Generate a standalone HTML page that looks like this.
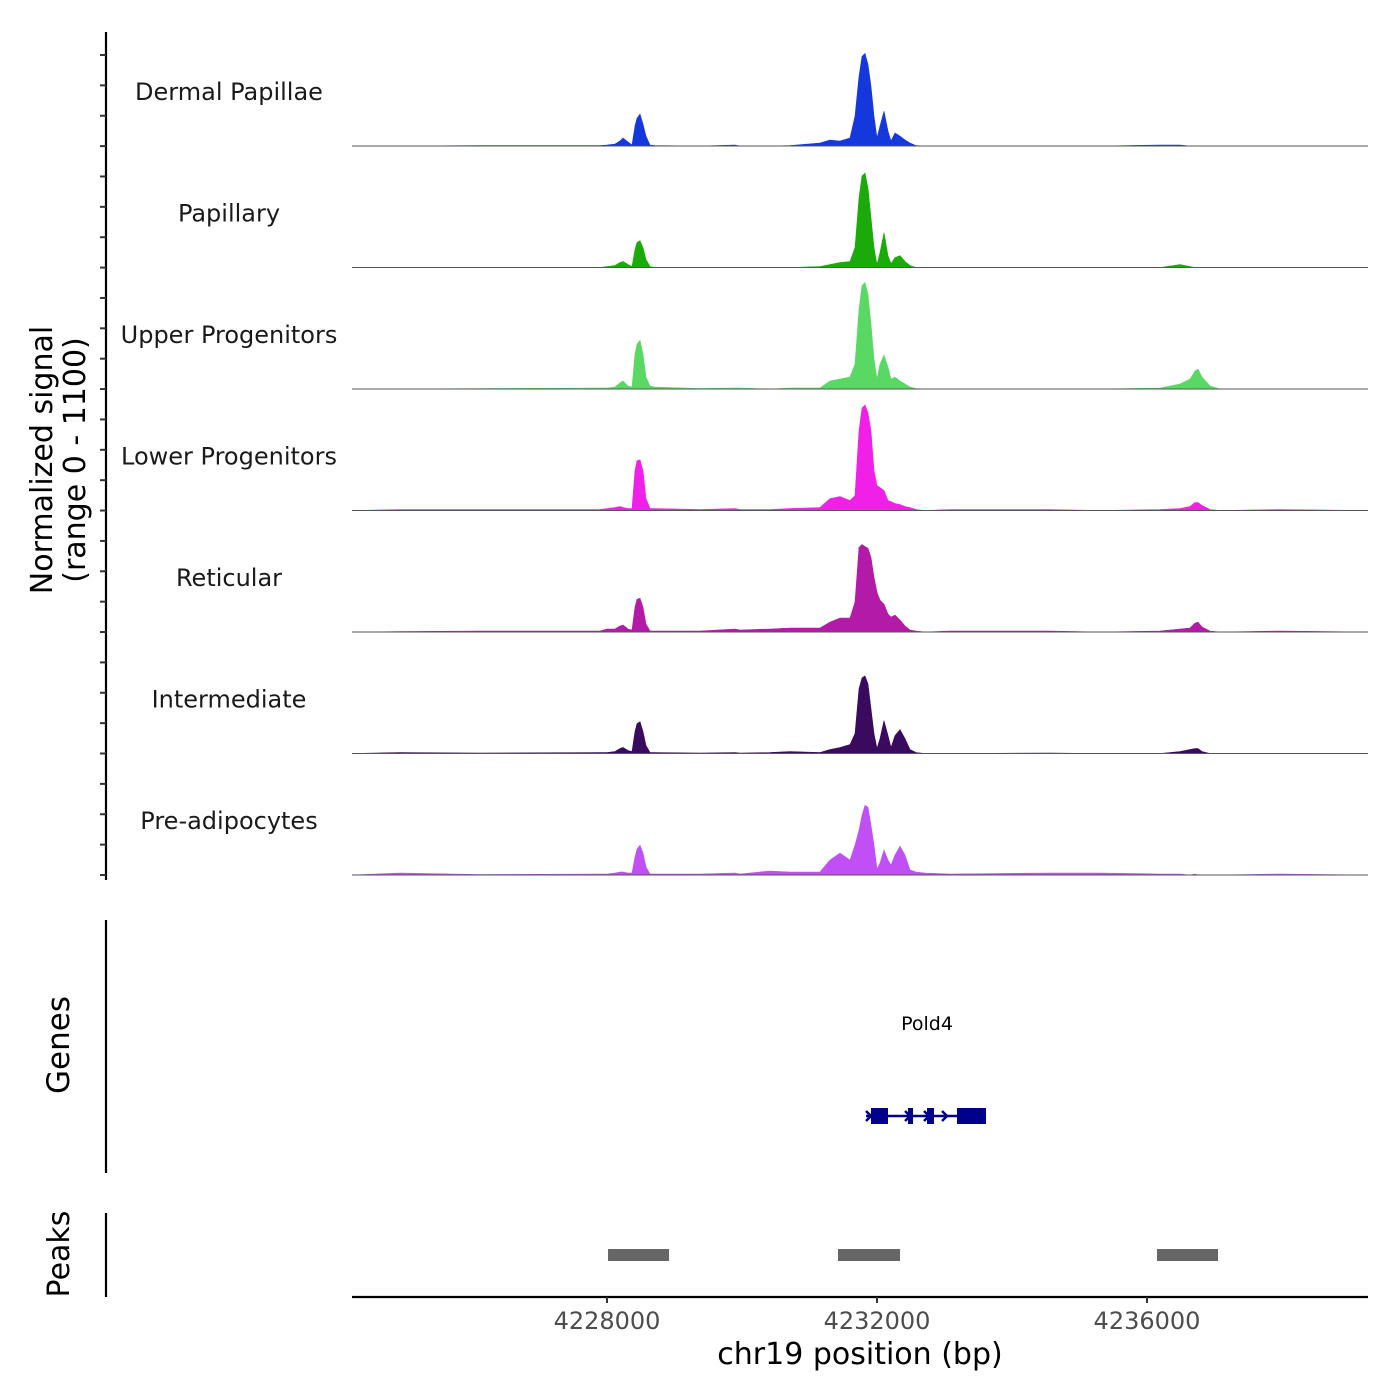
<!DOCTYPE html>
<html><head><meta charset="utf-8"><style>
html,body{margin:0;padding:0;background:#fff;}
svg{display:block;font-family:"DejaVu Sans","Liberation Sans",sans-serif;}
</style></head><body>
<svg id="chart" width="1400" height="1400" viewBox="0 0 1400 1400" xmlns="http://www.w3.org/2000/svg">
<g id="tracks"></g>
<g id="left"></g>
<text transform="translate(52,460) rotate(-90)" text-anchor="middle" font-size="30" fill="#000">Normalized signal</text>
<text transform="translate(85,460) rotate(-90)" text-anchor="middle" font-size="30" fill="#000">(range 0 - 1100)</text>
<text transform="translate(69,1045) rotate(-90)" text-anchor="middle" font-size="31" fill="#000">Genes</text>
<text transform="translate(69,1254) rotate(-90)" text-anchor="middle" font-size="30" fill="#000">Peaks</text>
<g id="genes"></g>
<g id="peaks"></g>
<g id="xaxis"></g>
<text x="860" y="1364" text-anchor="middle" font-size="30" fill="#000">chr19 position (bp)</text>
</svg>
<script>
const positions=[4224222,4224933,4226119,4227896,4228000,4228119,4228193,4228237,4228311,4228370,4228415,4228444,4228489,4228533,4228578,4228637,4228711,4229378,4229896,4229970,4230415,4230711,4231156,4231304,4231452,4231600,4231674,4231733,4231778,4231822,4231867,4231911,4231956,4232000,4232044,4232104,4232163,4232207,4232267,4232341,4232415,4232489,4232578,4232711,4233081,4234563,4235304,4236193,4236489,4236637,4236711,4236756,4236815,4236933,4237081,4237970,4239274];
const trackNames=["Dermal Papillae","Papillary","Upper Progenitors","Lower Progenitors","Reticular","Intermediate","Pre-adipocytes"];
const trackColors=["#1538dc","#1aab0a","#5ad864","#f020e8","#b31aa8","#3a0a5e","#c050f5"];
// values in normalized signal (0-1100)
const dermal=[0,0,4,4,9,18,45,72,36,9,180,252,288,198,90,9,4,0,9,0,0,4,27,54,45,72,270,630,810,837,738,540,270,72,180,315,135,45,117,90,54,27,4,0,0,0,0,9,9,0,0,0,0,0,0,0,0];
const papillary=[0,0,0,0,9,18,45,54,27,9,162,225,243,180,72,9,0,0,0,0,0,0,9,27,45,54,180,630,828,855,720,450,180,27,135,315,108,36,90,108,54,18,0,0,0,0,0,0,27,9,0,0,0,0,0,0,0];
const upper=[0,0,4,9,9,18,54,72,27,18,315,405,441,315,108,27,18,4,9,9,0,9,9,72,90,108,225,720,936,963,855,585,270,90,225,306,198,90,108,72,45,18,4,0,0,0,0,9,45,90,162,180,108,27,0,0,0];
const lower=[0,9,9,9,18,27,36,27,18,18,360,450,459,360,108,18,18,9,18,9,9,18,27,108,126,90,135,720,927,954,882,720,360,225,207,180,90,81,63,54,36,27,9,0,9,9,0,9,18,36,72,72,45,9,0,9,0];
const reticular=[0,4,9,9,27,27,54,63,27,18,225,297,306,225,72,9,9,9,27,18,27,36,36,90,126,126,270,765,792,774,756,675,495,360,288,252,162,135,153,108,54,18,9,0,9,9,0,9,27,36,81,90,45,9,0,9,0];
const intermediate=[0,9,4,9,9,18,45,54,27,18,198,270,288,198,72,9,9,4,9,4,9,18,9,36,54,81,180,585,684,702,630,405,180,45,135,297,162,54,162,216,135,36,9,0,0,4,0,0,18,36,45,45,18,0,0,0,0];
const preadipocytes=[0,18,4,9,9,18,27,27,18,18,162,234,270,198,72,9,9,9,18,9,36,27,27,135,198,135,270,405,540,630,612,450,270,54,108,225,135,90,180,261,180,45,27,18,9,18,18,9,9,0,9,0,0,0,0,9,0];
const trackValues=[dermal,papillary,upper,lower,reticular,intermediate,preadipocytes];
const xTicks=[4228000,4232000,4236000];
const xTickLabels=["4228000","4232000","4236000"];
const geneName="Pold4";
const geneStart=4231837, geneEnd=4233615;
const exonStarts=[4231911,4232459,4232741,4233185];
const exonEnds=[4232163,4232533,4232844,4233615];
const arrowPositions=[4231837,4232415,4232696,4232963];
const peakStarts=[4228015,4231422,4236148];
const peakEnds=[4228919,4232341,4237052];

const NS="http://www.w3.org/2000/svg";
const X0=352,X1=1368,BP0=4224222,BP1=4239274;
const xs=bp=>X0+(bp-BP0)/(BP1-BP0)*(X1-X0);
const baseY=i=>146+i*121.5;
const ys=(v,i)=>baseY(i)-v/1100*121.5;
function mk(tag,attrs,parent){const e=document.createElementNS(NS,tag);for(const k in attrs)e.setAttribute(k,attrs[k]);parent.appendChild(e);return e;}
const tracks=document.getElementById('tracks');
trackValues.forEach((vals,i)=>{
  let d="M"+xs(positions[0])+","+baseY(i);
  positions.forEach((p,j)=>{d+=" L"+xs(p).toFixed(1)+","+ys(vals[j],i).toFixed(1);});
  d+=" L"+xs(positions[positions.length-1])+","+baseY(i)+" Z";
  const a=mk('path',{d:d,fill:trackColors[i],stroke:trackColors[i],'stroke-width':0.6},tracks);
  
  
  const bl=mk('line',{x1:X0,x2:X1,y1:baseY(i),y2:baseY(i),stroke:'#555',"stroke-width":1},tracks);
  
  
  const t=mk('text',{x:229,y:baseY(i)-46,'text-anchor':'middle','font-size':24,fill:'#1a1a1a'},tracks);
  t.textContent=trackNames[i];
  
  
});
const left=document.getElementById('left');
const la=mk('line',{x1:106,x2:106,y1:32,y2:880,stroke:'#000','stroke-width':2.2},left);


for(let k=0;k<28;k++){const y=55+k*30.37;const tk=mk('line',{x1:100,x2:106,y1:y,y2:y,stroke:'#333','stroke-width':2},left);

}
const ga=mk('line',{x1:106,x2:106,y1:920,y2:1173,stroke:'#000','stroke-width':2.2},left);


const pa=mk('line',{x1:106,x2:106,y1:1213,y2:1297,stroke:'#000','stroke-width':2.2},left);


// genes
const genes=document.getElementById('genes');
const gl=mk('text',{x:(xs(geneStart)+xs(geneEnd))/2+1,y:1030,'text-anchor':'middle','font-size':19,fill:'#000'},genes);
gl.textContent=geneName;


const gline=mk('line',{x1:xs(geneStart),x2:xs(geneEnd),y1:1116,y2:1116,stroke:'#00008b','stroke-width':2.5},genes);


exonStarts.forEach((s,k)=>{const r=mk('rect',{x:xs(s),y:1108,width:xs(exonEnds[k])-xs(s),height:16,fill:'#00008b'},genes);

});
arrowPositions.forEach(p=>{const x=xs(p);const a=mk('path',{d:`M${x},${1111} L${x+5},${1116} L${x},${1121}`,fill:'none',stroke:'#00008b','stroke-width':2.5},genes);

});
// peaks
const peaks=document.getElementById('peaks');
peakStarts.forEach((s,k)=>{const r=mk('rect',{x:xs(s),y:1249,width:xs(peakEnds[k])-xs(s),height:12,fill:'#666'},peaks);

});
// x axis
const xa=document.getElementById('xaxis');
const xl=mk('line',{x1:X0,x2:X1,y1:1297,y2:1297,stroke:'#000','stroke-width':2.2},xa);


xTicks.forEach((t,k)=>{const x=xs(t);
const tk=mk('line',{x1:x,x2:x,y1:1297,y2:1303,stroke:'#333','stroke-width':2},xa);


const tl=mk('text',{x:x,y:1329,'text-anchor':'middle','font-size':24,fill:'#4d4d4d'},xa);
tl.textContent=xTickLabels[k];

});
</script>
</body></html>
